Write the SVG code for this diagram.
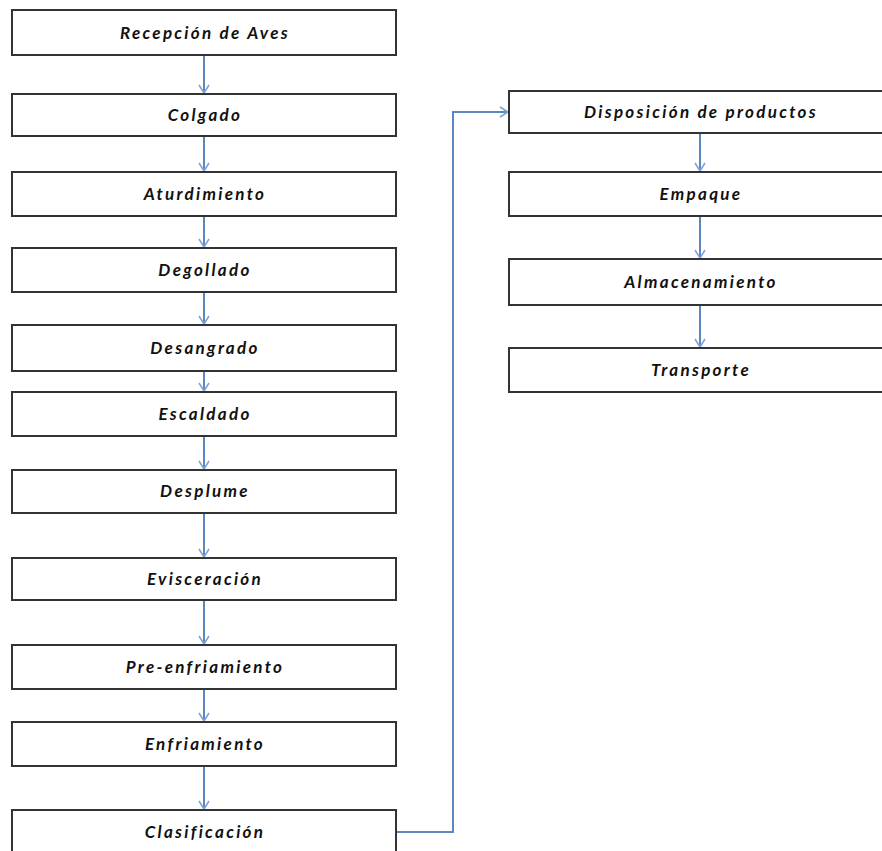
<svg xmlns="http://www.w3.org/2000/svg" width="882" height="851" viewBox="0 0 882 851">
<style>
.box{fill:#fff;stroke:#333;stroke-width:2}
.lbl{font-family:Lato,"Open Sans","Liberation Sans",sans-serif;font-weight:bold;font-style:italic;font-size:17px;letter-spacing:2.3px;fill:#111;text-anchor:middle}
.con{fill:none;stroke:#5b87c2;stroke-width:2}
</style>
<defs>
<marker id="ah" markerUnits="userSpaceOnUse" markerWidth="14" markerHeight="14" refX="9" refY="6" orient="auto">
<path d="M1,1 L9,6 L1,11" fill="none" stroke="#7fa3d3" stroke-width="1.6"/>
</marker>
</defs>
<rect width="882" height="851" fill="#fff"/>
<g id="connectors">
<line class="con" x1="204" y1="55" x2="204" y2="93" marker-end="url(#ah)"/>
<line class="con" x1="204" y1="136" x2="204" y2="171" marker-end="url(#ah)"/>
<line class="con" x1="204" y1="216" x2="204" y2="247" marker-end="url(#ah)"/>
<line class="con" x1="204" y1="292" x2="204" y2="324" marker-end="url(#ah)"/>
<line class="con" x1="204" y1="371" x2="204" y2="391" marker-end="url(#ah)"/>
<line class="con" x1="204" y1="436" x2="204" y2="469" marker-end="url(#ah)"/>
<line class="con" x1="204" y1="513" x2="204" y2="557" marker-end="url(#ah)"/>
<line class="con" x1="204" y1="600" x2="204" y2="644" marker-end="url(#ah)"/>
<line class="con" x1="204" y1="689" x2="204" y2="721" marker-end="url(#ah)"/>
<line class="con" x1="204" y1="766" x2="204" y2="809" marker-end="url(#ah)"/>
<polyline class="con" points="396,832 453,832 453,112 508,112" marker-end="url(#ah)"/>
<line class="con" x1="700" y1="133" x2="700" y2="171" marker-end="url(#ah)"/>
<line class="con" x1="700" y1="216" x2="700" y2="258" marker-end="url(#ah)"/>
<line class="con" x1="700" y1="305" x2="700" y2="347" marker-end="url(#ah)"/>
</g>
<g id="n1"><rect class="box" x="12" y="10" width="384" height="45"/><text class="lbl" x="205" y="39">Recepción de Aves</text></g>
<g id="n2"><rect class="box" x="12" y="94" width="384" height="42"/><text class="lbl" x="205" y="121">Colgado</text></g>
<g id="n3"><rect class="box" x="12" y="172" width="384" height="44"/><text class="lbl" x="205" y="200">Aturdimiento</text></g>
<g id="n4"><rect class="box" x="12" y="248" width="384" height="44"/><text class="lbl" x="205" y="276">Degollado</text></g>
<g id="n5"><rect class="box" x="12" y="325" width="384" height="46"/><text class="lbl" x="205" y="354">Desangrado</text></g>
<g id="n6"><rect class="box" x="12" y="392" width="384" height="44"/><text class="lbl" x="205" y="420">Escaldado</text></g>
<g id="n7"><rect class="box" x="12" y="470" width="384" height="43"/><text class="lbl" x="205" y="497">Desplume</text></g>
<g id="n8"><rect class="box" x="12" y="558" width="384" height="42"/><text class="lbl" x="205" y="585">Evisceración</text></g>
<g id="n9"><rect class="box" x="12" y="645" width="384" height="44"/><text class="lbl" x="205" y="673">Pre-enfriamiento</text></g>
<g id="n10"><rect class="box" x="12" y="722" width="384" height="44"/><text class="lbl" x="205" y="750">Enfriamiento</text></g>
<g id="n11"><rect class="box" x="12" y="810" width="384" height="50"/><text class="lbl" x="205" y="838">Clasificación</text></g>
<g id="n12"><rect class="box" x="509" y="91" width="384" height="42"/><text class="lbl" x="701" y="118">Disposición de productos</text></g>
<g id="n13"><rect class="box" x="509" y="172" width="384" height="44"/><text class="lbl" x="701" y="200">Empaque</text></g>
<g id="n14"><rect class="box" x="509" y="259" width="384" height="46"/><text class="lbl" x="701" y="288">Almacenamiento</text></g>
<g id="n15"><rect class="box" x="509" y="348" width="384" height="44"/><text class="lbl" x="701" y="376">Transporte</text></g>
</svg>
